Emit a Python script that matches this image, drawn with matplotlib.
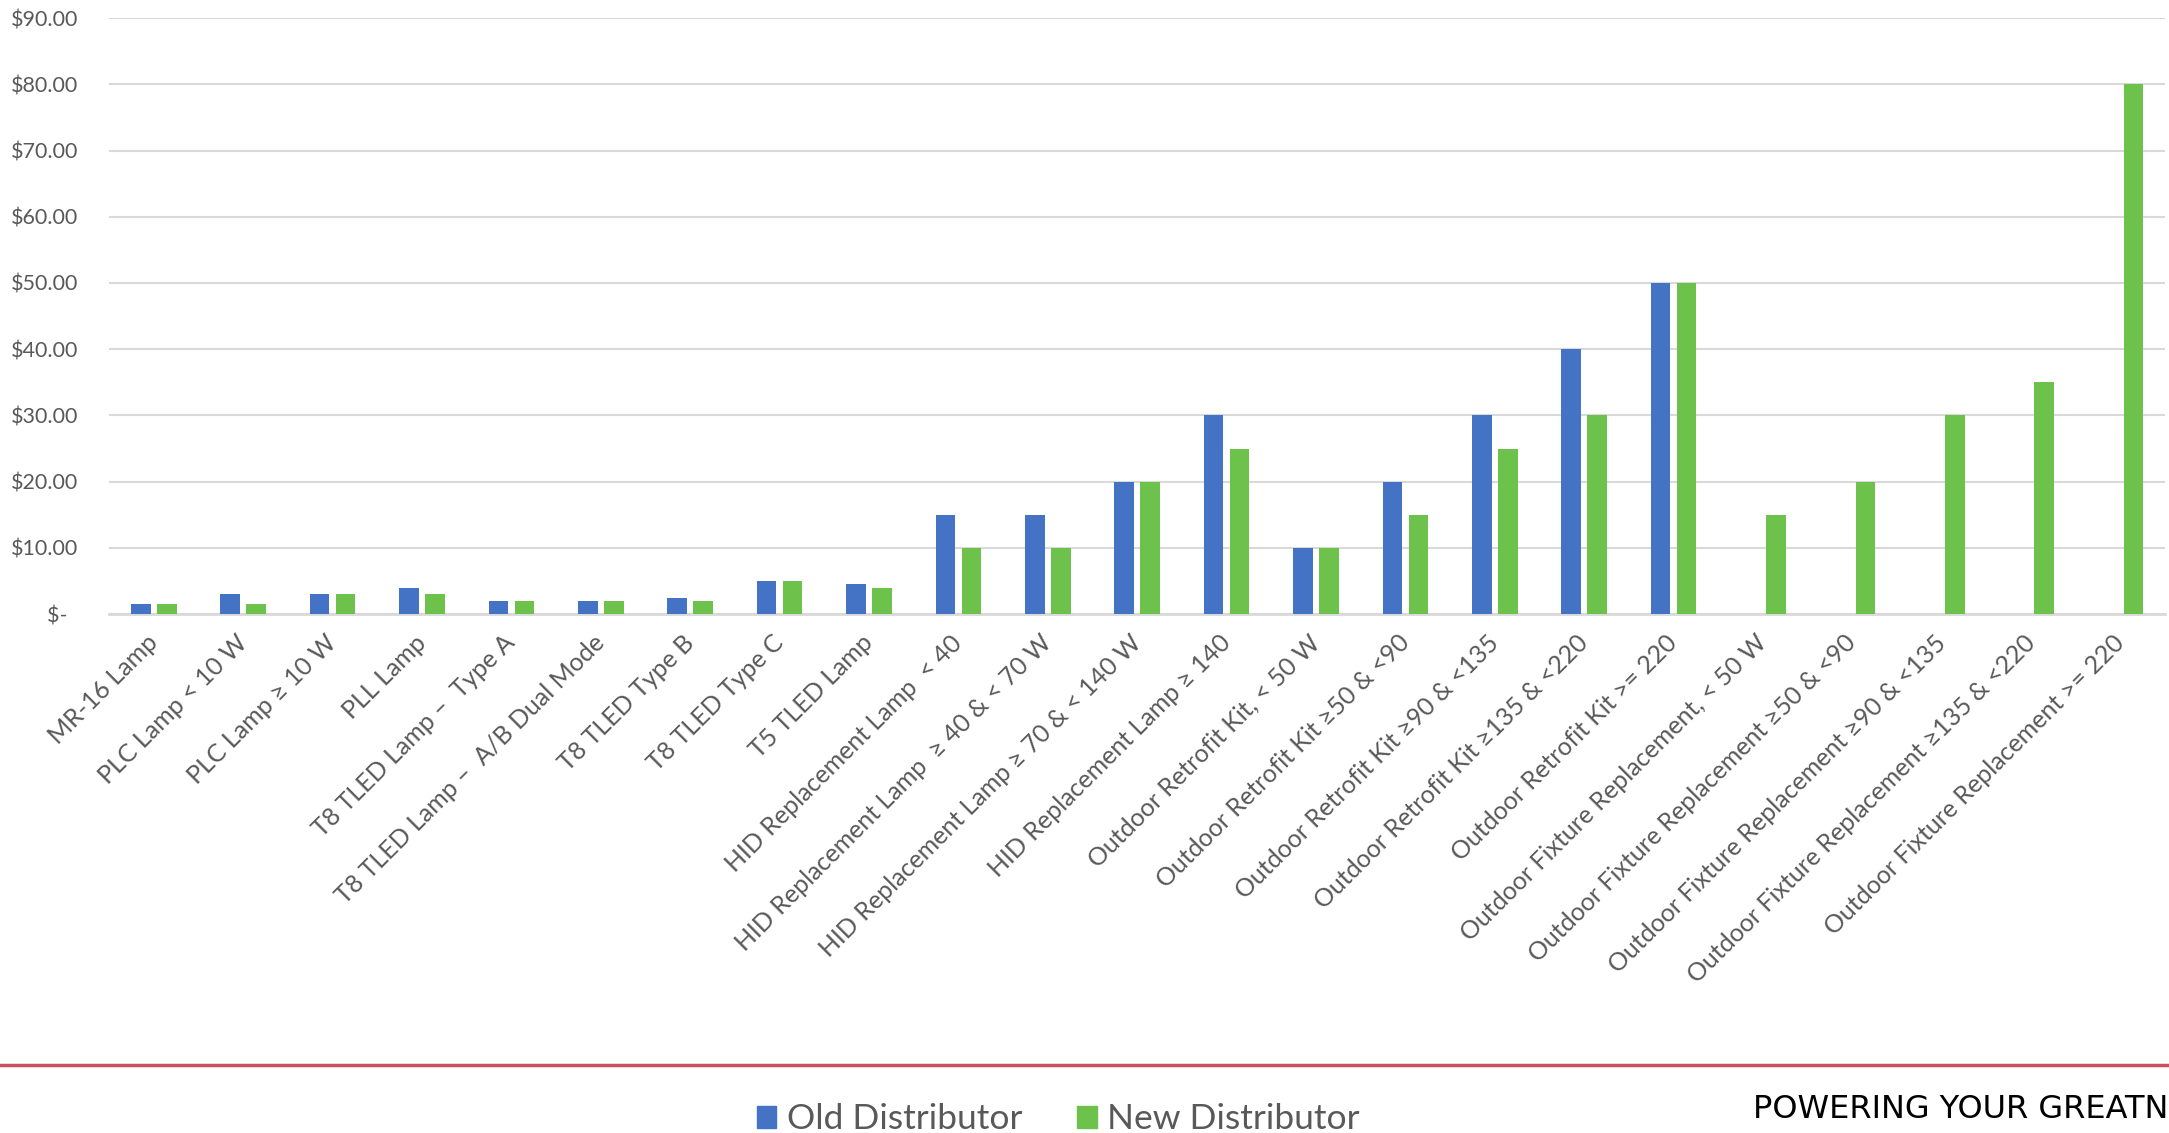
import numpy as np
import matplotlib
matplotlib.use("Agg")
import matplotlib.pyplot as plt
from matplotlib.patches import Rectangle
from matplotlib.lines import Line2D

plt.rcParams['font.family'] = ['Lato', 'DejaVu Sans']

categories = [
    "MR-16 Lamp",
    "PLC Lamp < 10 W",
    "PLC Lamp \u2265 10 W",
    "PLL Lamp",
    "T8 TLED Lamp \u2013  Type A",
    "T8 TLED Lamp \u2013  A/B Dual Mode",
    "T8 TLED Type B",
    "T8 TLED Type C",
    "T5 TLED Lamp",
    "HID Replacement Lamp  < 40",
    "HID Replacement Lamp  \u2265 40 & < 70 W",
    "HID Replacement Lamp \u2265 70 & < 140 W",
    "HID Replacement Lamp \u2265 140",
    "Outdoor Retrofit Kit, < 50 W",
    "Outdoor Retrofit Kit \u226550 & <90",
    "Outdoor Retrofit Kit \u226590 & <135",
    "Outdoor Retrofit Kit \u2265135 & <220",
    "Outdoor Retrofit Kit >= 220",
    "Outdoor Fixture Replacement, < 50 W",
    "Outdoor Fixture Replacement \u226550 & <90",
    "Outdoor Fixture Replacement \u226590 & <135",
    "Outdoor Fixture Replacement \u2265135 & <220",
    "Outdoor Fixture Replacement >= 220",
]

old_distributor = [1.5, 3, 3, 4, 2, 2, 2.5, 5, 4.5, 15, 15, 20, 30, 10, 20, 30, 40, 50,
                   None, None, None, None, None]
new_distributor = [1.5, 1.5, 3, 3, 2, 2, 2, 5, 4, 10, 10, 20, 25, 10, 15, 25, 30, 50,
                   15, 20, 30, 35, 80]

series_names = ["Old Distributor", "New Distributor"]
y_ticks = [0, 10, 20, 30, 40, 50, 60, 70, 80, 90]
y_tick_labels = ["$-  ", "$10.00", "$20.00", "$30.00", "$40.00", "$50.00",
                 "$60.00", "$70.00", "$80.00", "$90.00"]
footer_text = "POWERING YOUR GREATN"

BLUE = "#4472C4"
GREEN = "#6CC24A"
TEXT = "#595959"
GRID = "#D9D9D9"

fig = plt.figure(figsize=(21.69, 11.33), dpi=100)
ax = fig.add_axes([0.0503, 0.458, 0.948, 0.526])

x = np.arange(len(categories))
old_vals = np.array([np.nan if v is None else v for v in old_distributor], dtype=float)
new_vals = np.array(new_distributor, dtype=float)

bar_w = 0.22
offset = 0.145
ax.bar(x - offset, old_vals, width=bar_w, color=BLUE, zorder=3)
ax.bar(x + offset, new_vals, width=bar_w, color=GREEN, zorder=3)

ax.set_xlim(-0.5, len(categories) - 0.5)
ax.set_ylim(0, 90)
ax.set_yticks(y_ticks)
ax.set_yticklabels(y_tick_labels, fontsize=15.5, color=TEXT)
ax.yaxis.grid(True, color=GRID, linewidth=1.5, zorder=0)
ax.tick_params(axis='y', length=0, pad=22)
ax.tick_params(axis='x', length=0, pad=18)

ax.set_xticks(x)
ax.set_xticklabels(categories, rotation=45, ha='right', va='center',
                   rotation_mode='anchor', fontsize=18, color=TEXT)

for side in ['top', 'right', 'left']:
    ax.spines[side].set_visible(False)
ax.spines['bottom'].set_color(GRID)
ax.spines['bottom'].set_linewidth(2)

# footer rule
fig.add_artist(Line2D([0, 1], [0.06, 0.06], transform=fig.transFigure,
                      color="#C9505F", linewidth=2.5))

handles = [Rectangle((0, 0), 1, 1, color=BLUE), Rectangle((0, 0), 1, 1, color=GREEN)]
fig.legend(handles, series_names, loc='center', bbox_to_anchor=(0.488, 0.012), ncol=2,
           frameon=False, fontsize=25.5, labelcolor=TEXT, handlelength=0.55,
           handleheight=0.55, handletextpad=0.3, columnspacing=1.55)

fig.text(0.9995, 0.021, footer_text, fontsize=23, color="black",
         va='center', ha='right', family='DejaVu Sans')

fig.savefig("out.png", dpi=100)
